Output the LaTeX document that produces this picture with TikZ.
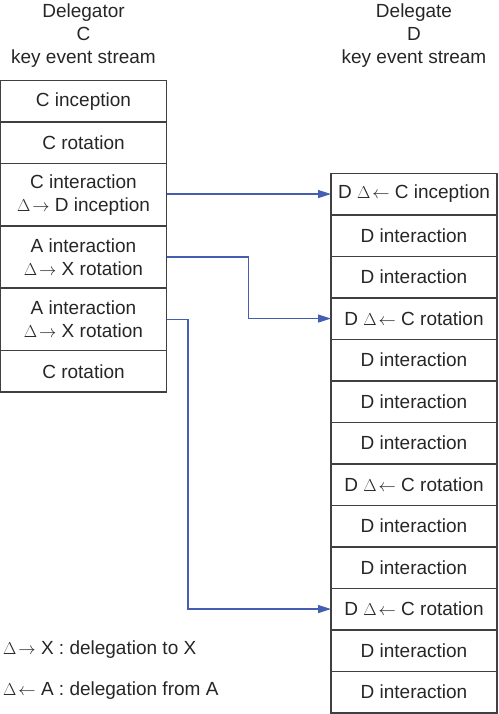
\documentclass[tikz,border=0pt]{standalone}
\usepackage{fontspec}
\setmainfont{Liberation Sans}
\usetikzlibrary{arrows.meta,positioning}
\definecolor{linkblue}{RGB}{68,94,178}
\newcommand{\delto}{{\fontsize{17}{17}\selectfont$\Delta\!\rightarrow$}}
\newcommand{\delfrom}{{\fontsize{17}{17}\selectfont$\Delta\!\leftarrow$}}

\begin{document}
\begin{tikzpicture}[x=1pt,y=-1pt,node distance=0pt,
	every node/.style={font=\fontsize{19}{23}\selectfont,text=black!85},
	evt/.style={draw=black!75,line width=1.5pt,minimum width=166pt,minimum height=41.5pt,inner sep=0pt,outer sep=0pt,align=center},
	evttwo/.style={evt,minimum height=62.5pt},
	deleg/.style={draw=linkblue,line width=1.2pt,-{Triangle[length=13pt,width=8pt]}}]
		\useasboundingbox (0,0) rectangle (498,714);

		% delegator C
		\node[align=center] (hC) at (83.5,36) {Delegator\\C\\key event stream};
		\node[evt,anchor=north] (c1) at (83.5,80.5) {C inception};
		\node[evt] (c2) [below=of c1] {C rotation};
		\node[evttwo] (c3) [below=of c2] {C interaction\\\delto{} D inception};
		\node[evttwo,minimum height=62pt] (c4) [below=of c3] {A interaction\\\delto{} X rotation};
		\node[evttwo] (c5) [below=of c4] {A interaction\\\delto{} X rotation};
		\node[evt] (c6) [below=of c5] {C rotation};

		% delegate D
		\node[align=center] (hD) at (414,36) {Delegate\\D\\key event stream};
		\node[evt,anchor=north] (d1) at (414,173.3) {D \delfrom{} C inception};
		\node[evt] (d2) [below=of d1] {D interaction};
		\node[evt] (d3) [below=of d2] {D interaction};
		\node[evt] (d4) [below=of d3] {D \delfrom{} C rotation};
		\node[evt] (d5) [below=of d4] {D interaction};
		\node[evt] (d6) [below=of d5] {D interaction};
		\node[evt] (d7) [below=of d6] {D interaction};
		\node[evt] (d8) [below=of d7] {D \delfrom{} C rotation};
		\node[evt] (d9) [below=of d8] {D interaction};
		\node[evt] (d10) [below=of d9] {D interaction};
		\node[evt] (d11) [below=of d10] {D \delfrom{} C rotation};
		\node[evt] (d12) [below=of d11] {D interaction};
		\node[evt] (d13) [below=of d12] {D interaction};

		% legend
		\node[anchor=west,inner sep=0pt] (lgTo) at (3,650) {\delto{} X : delegation to X};
		\node[anchor=west,inner sep=0pt] (lgFrom) at (3,691) {\delfrom{} A : delegation from A};

		\draw[deleg] (c3.east |- d1.west) -- (d1.west);
		\draw[deleg] (c4.east) -- ++(82,0) |- (d4.west);
		\draw[deleg] (c5.east) -- ++(21.5,0) |- (d11.west);
	\end{tikzpicture}
\end{document}
